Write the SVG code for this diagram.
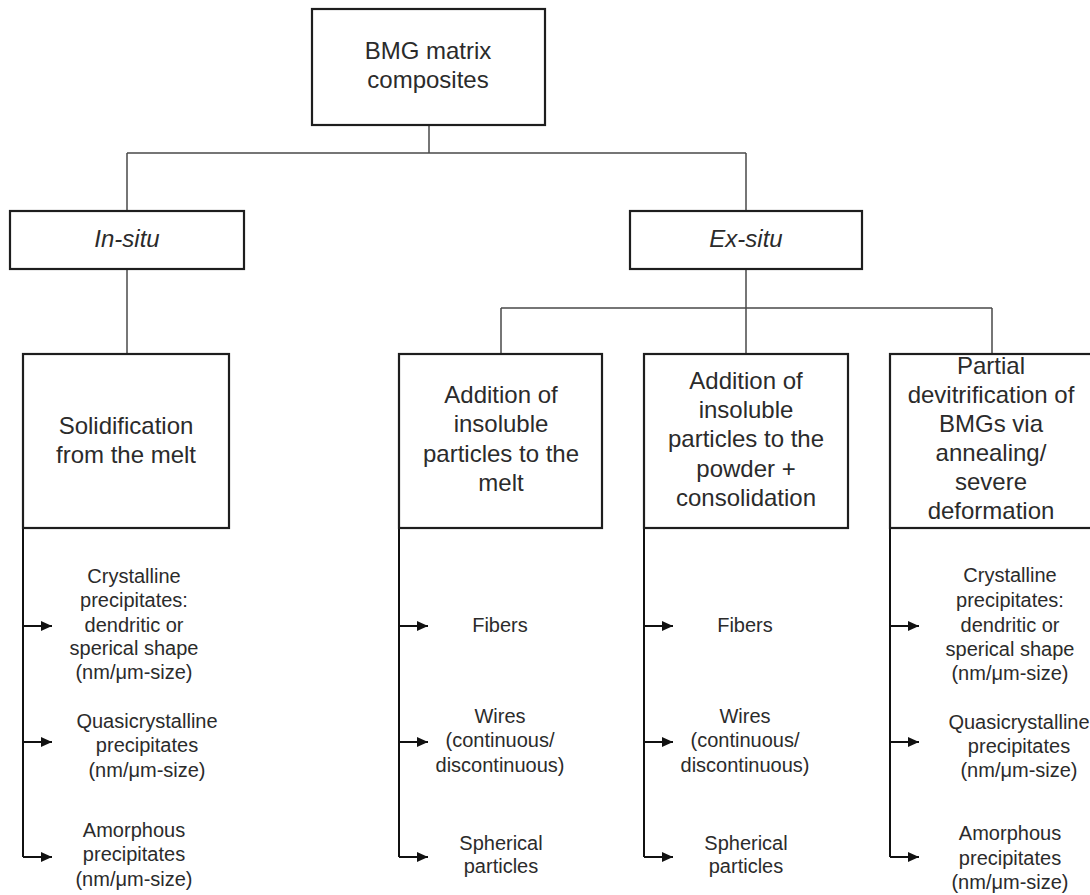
<svg xmlns="http://www.w3.org/2000/svg" width="1090" height="895" viewBox="0 0 1090 895">
<style>
  .box{fill:#fff;stroke:#1e1e1e;stroke-width:2.2}
  .conn{fill:none;stroke:#4a4a4a;stroke-width:1.5}
  .tree{fill:none;stroke:#111;stroke-width:2}
  .arr{fill:none;stroke:#111;stroke-width:2;marker-end:url(#ah)}
  text{font-family:"Liberation Sans",Arial,sans-serif;fill:#2b2b2b;text-anchor:middle}
  .big{font-size:24px}
  .it{font-style:italic}
  .sm{font-size:20px}
</style>
<defs>
  <marker id="ah" markerUnits="userSpaceOnUse" markerWidth="12" markerHeight="11" refX="11" refY="5" orient="auto">
    <path d="M0,0 L11,5 L0,10 z" fill="#111"/>
  </marker>
</defs>
<rect width="1090" height="895" fill="#fff"/>
<g id="connectors">
  <path class="conn" d="M429,125 V153 M127,153 H746 M127,153 V211 M746,153 V211"/>
  <path class="conn" d="M127,269 V354"/>
  <path class="conn" d="M746,269 V354 M501,308 H992 M501,308 V354 M992,308 V354"/>
  <path class="tree" d="M23,515 V857 M399,515 V857 M644,515 V857 M890,515 V857"/>
  <path class="arr" d="M23,626 H52"/>
  <path class="arr" d="M23,742 H52"/>
  <path class="arr" d="M23,857 H52"/>
  <path class="arr" d="M399,626 H428"/>
  <path class="arr" d="M399,742 H428"/>
  <path class="arr" d="M399,857 H428"/>
  <path class="arr" d="M644,626 H673"/>
  <path class="arr" d="M644,742 H673"/>
  <path class="arr" d="M644,857 H673"/>
  <path class="arr" d="M890,626 H919"/>
  <path class="arr" d="M890,742 H919"/>
  <path class="arr" d="M890,857 H919"/>
</g>
<g id="root">
  <rect class="box" x="312" y="9" width="233" height="116"/>
  <text class="big" x="428" y="59">BMG matrix</text>
  <text class="big" x="428" y="88">composites</text>
</g>
<g id="insitu">
  <rect class="box" x="10" y="211" width="234" height="58"/>
  <text class="big it" x="127" y="247">In-situ</text>
</g>
<g id="exsitu">
  <rect class="box" x="630" y="211" width="232" height="58"/>
  <text class="big it" x="746" y="247">Ex-situ</text>
</g>
<g id="solidification">
  <rect class="box" x="23" y="354" width="206" height="174"/>
  <text class="big" x="126" y="434">Solidification</text>
  <text class="big" x="126" y="463">from the melt</text>
</g>
<g id="melt">
  <rect class="box" x="399" y="354" width="203" height="174"/>
  <text class="big" x="501" y="403">Addition of</text>
  <text class="big" x="501" y="432">insoluble</text>
  <text class="big" x="501" y="462">particles to the</text>
  <text class="big" x="501" y="491">melt</text>
</g>
<g id="powder">
  <rect class="box" x="644" y="354" width="204" height="174"/>
  <text class="big" x="746" y="389">Addition of</text>
  <text class="big" x="746" y="418">insoluble</text>
  <text class="big" x="746" y="447">particles to the</text>
  <text class="big" x="746" y="477">powder +</text>
  <text class="big" x="746" y="506">consolidation</text>
</g>
<g id="devitrification">
  <rect class="box" x="890" y="354" width="206" height="174"/>
  <text class="big" x="991" y="374">Partial</text>
  <text class="big" x="991" y="403">devitrification of</text>
  <text class="big" x="991" y="432">BMGs via</text>
  <text class="big" x="991" y="461">annealing/</text>
  <text class="big" x="991" y="490">severe</text>
  <text class="big" x="991" y="519">deformation</text>
</g>
<g id="insitu-crystalline">
  <text class="sm" x="134" y="583">Crystalline</text>
  <text class="sm" x="134" y="607">precipitates:</text>
  <text class="sm" x="134" y="632">dendritic or</text>
  <text class="sm" x="134" y="655">sperical shape</text>
  <text class="sm" x="134" y="679">(nm/μm-size)</text>
</g>
<g id="insitu-quasi">
  <text class="sm" x="147" y="728">Quasicrystalline</text>
  <text class="sm" x="147" y="752">precipitates</text>
  <text class="sm" x="147" y="777">(nm/μm-size)</text>
</g>
<g id="insitu-amorphous">
  <text class="sm" x="134" y="837">Amorphous</text>
  <text class="sm" x="134" y="861">precipitates</text>
  <text class="sm" x="134" y="886">(nm/μm-size)</text>
</g>
<g id="melt-fibers"><text class="sm" x="500" y="632">Fibers</text></g>
<g id="melt-wires">
  <text class="sm" x="500" y="723">Wires</text>
  <text class="sm" x="500" y="747">(continuous/</text>
  <text class="sm" x="500" y="772">discontinuous)</text>
</g>
<g id="melt-spherical">
  <text class="sm" x="501" y="850">Spherical</text>
  <text class="sm" x="501" y="873">particles</text>
</g>
<g id="powder-fibers"><text class="sm" x="745" y="632">Fibers</text></g>
<g id="powder-wires">
  <text class="sm" x="745" y="723">Wires</text>
  <text class="sm" x="745" y="747">(continuous/</text>
  <text class="sm" x="745" y="772">discontinuous)</text>
</g>
<g id="powder-spherical">
  <text class="sm" x="746" y="850">Spherical</text>
  <text class="sm" x="746" y="873">particles</text>
</g>
<g id="devit-crystalline">
  <text class="sm" x="1010" y="582">Crystalline</text>
  <text class="sm" x="1010" y="607">precipitates:</text>
  <text class="sm" x="1010" y="632">dendritic or</text>
  <text class="sm" x="1010" y="656">sperical shape</text>
  <text class="sm" x="1010" y="680">(nm/μm-size)</text>
</g>
<g id="devit-quasi">
  <text class="sm" x="1019" y="729">Quasicrystalline</text>
  <text class="sm" x="1019" y="753">precipitates</text>
  <text class="sm" x="1019" y="777">(nm/μm-size)</text>
</g>
<g id="devit-amorphous">
  <text class="sm" x="1010" y="840">Amorphous</text>
  <text class="sm" x="1010" y="865">precipitates</text>
  <text class="sm" x="1010" y="889">(nm/μm-size)</text>
</g>
</svg>
